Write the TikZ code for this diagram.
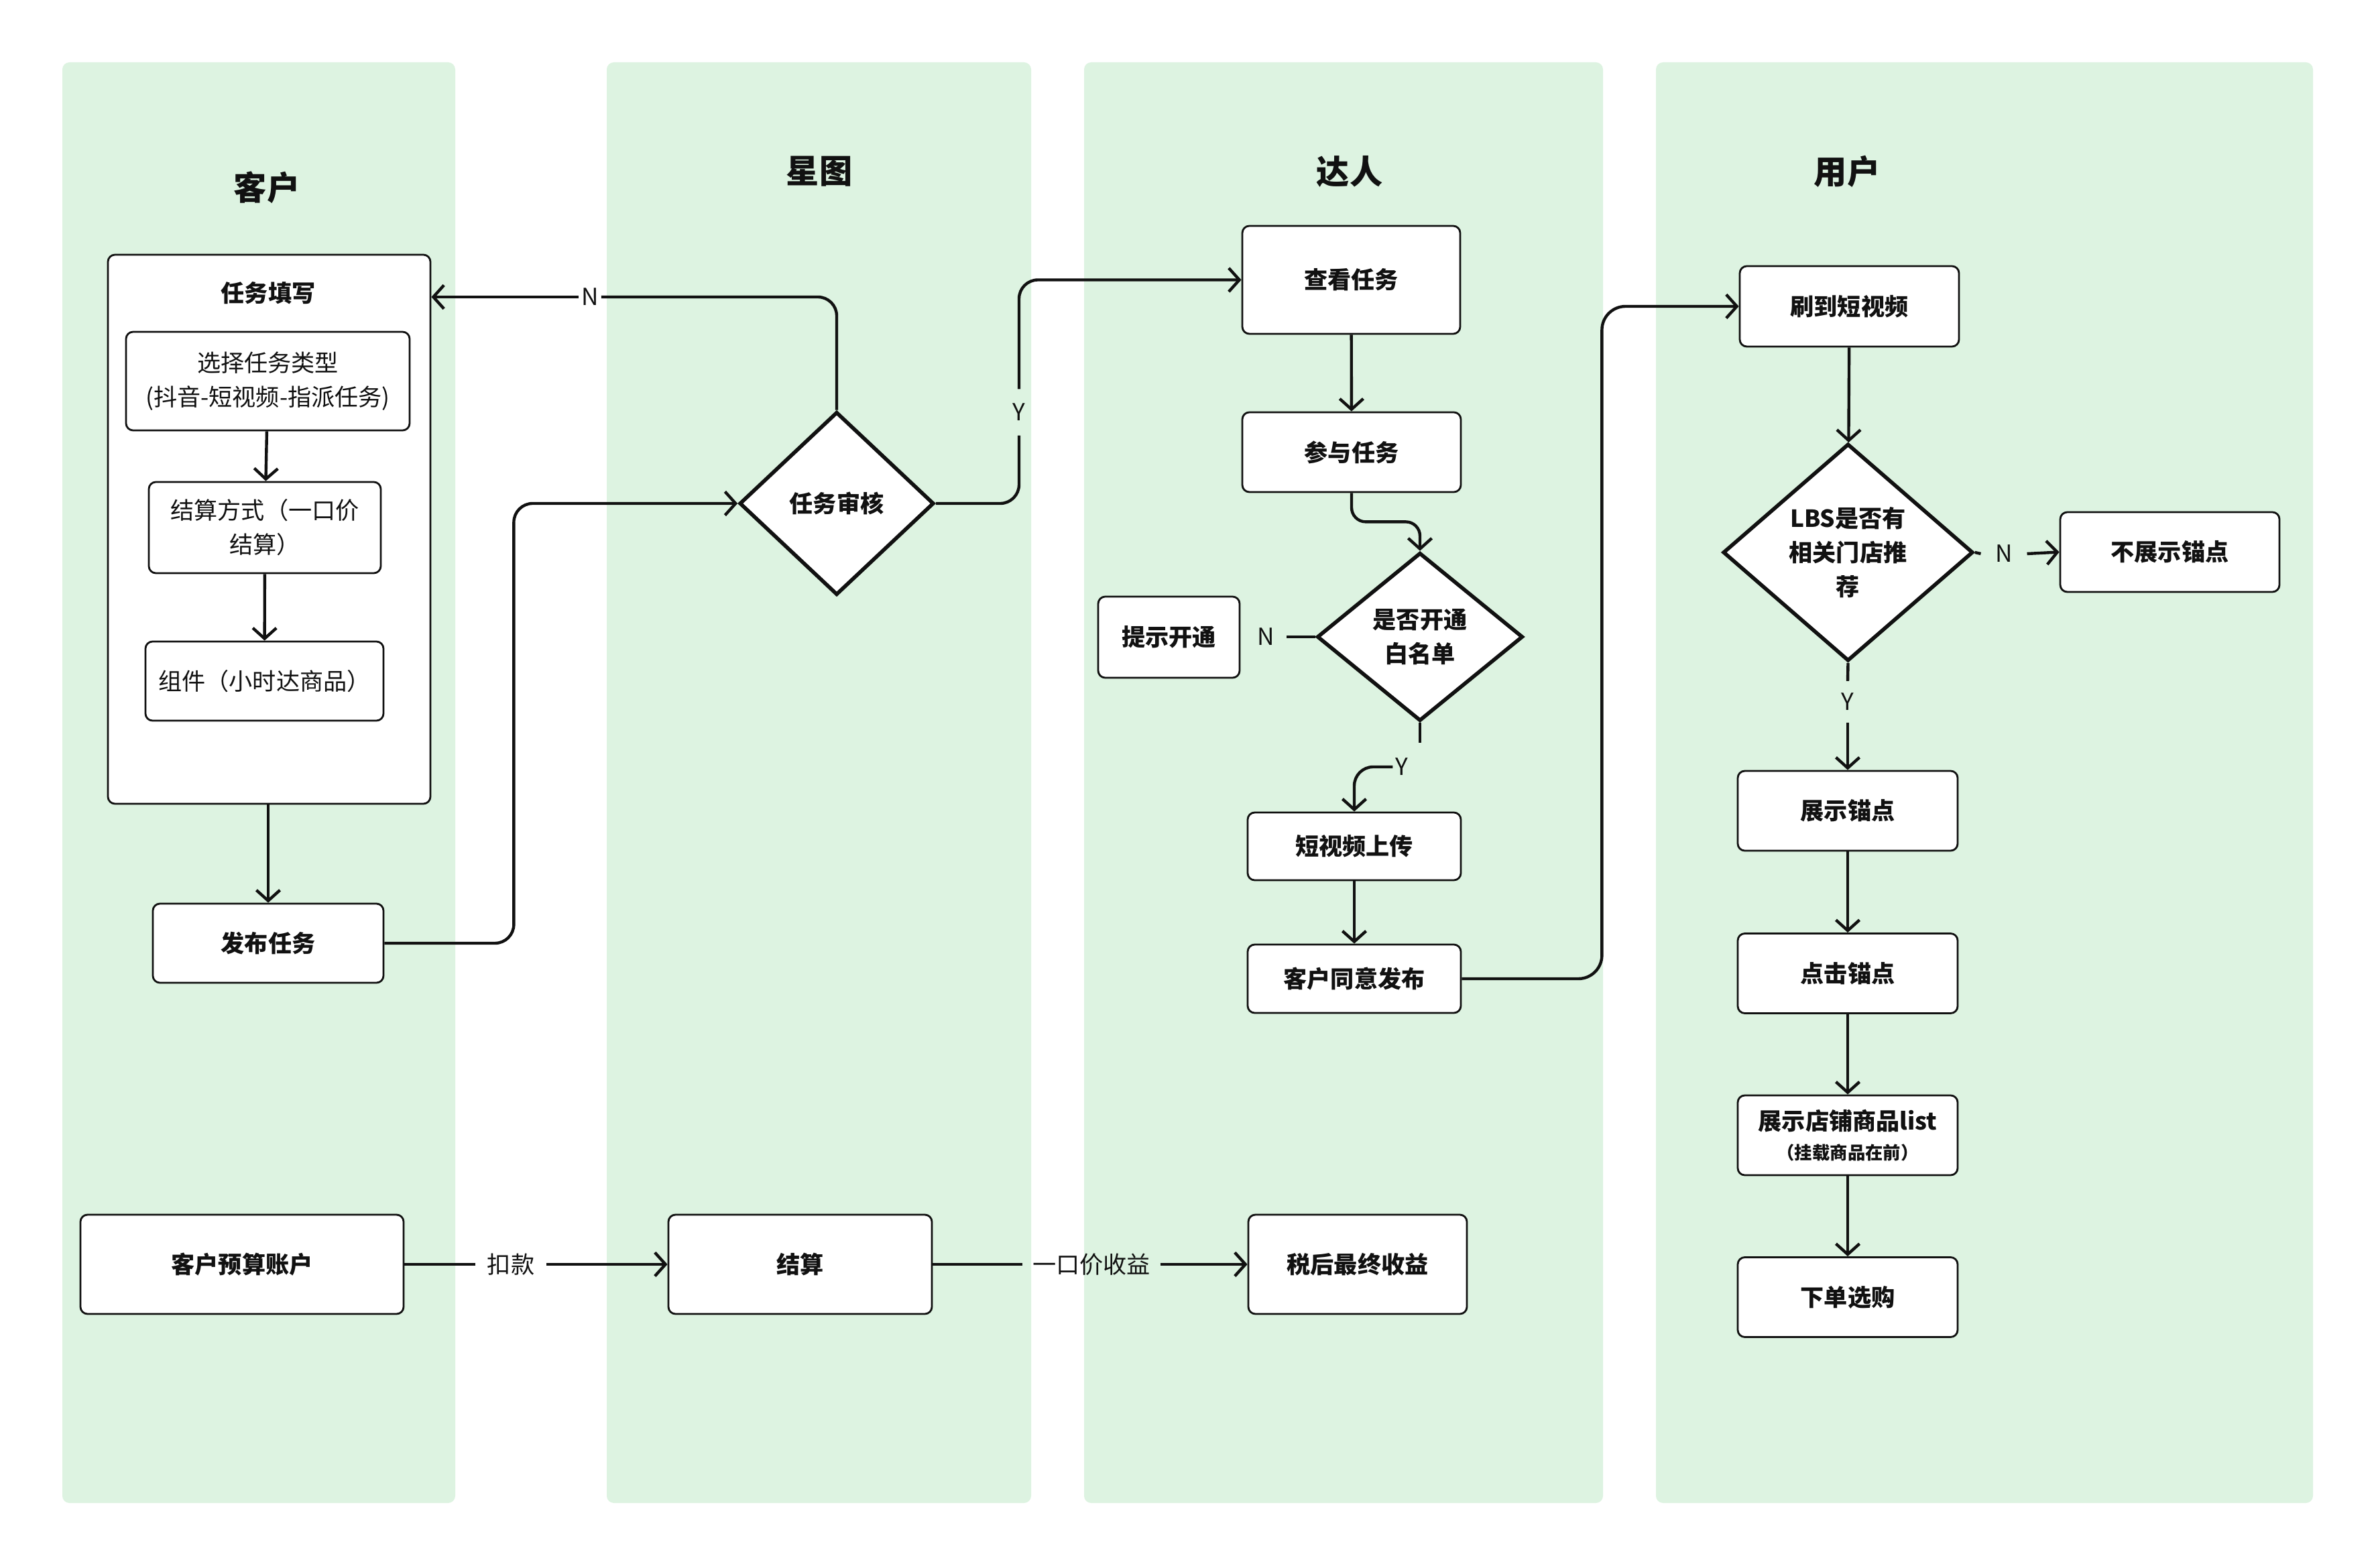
\documentclass[tikz,border=0pt]{standalone}
\usepackage{fontspec}
\setmainfont{Noto Sans CJK SC}
\usepackage{xcolor}
\usepackage{tikz}
\usetikzlibrary{arrows.meta, positioning, shapes.geometric}
\definecolor{lanegreen}{RGB}{221,243,225}
\definecolor{inkblack}{RGB}{17,17,17}

\begin{document}
\begin{tikzpicture}[
      lane/.style={fill=lanegreen, draw=none, rounded corners=3pt},
      title/.style={font=\fontsize{14}{17}\selectfont\bfseries, text=inkblack},
      box/.style={draw=inkblack, fill=white, line width=0.8pt, rounded corners=3pt,
                  align=center, inner sep=0pt, text=inkblack,
                  font=\fontsize{10}{14.5}\selectfont\bfseries},
      sub/.style={box, font=\fontsize{10}{14.5}\selectfont},
      dia/.style={diamond, draw=inkblack, fill=white, line width=1.6pt, inner sep=0pt,
                  align=center, text=inkblack, font=\fontsize{10}{14.5}\selectfont\bfseries},
      line/.style={draw=inkblack, line width=1.25pt},
      arr/.style={line, -{Straight Barb[length=4.5pt, width=10pt]}},
      lbl/.style={inner sep=1pt, text=inkblack, font=\fontsize{10}{12}\selectfont}
    ]
    \useasboundingbox (0,0) rectangle (35.47,-23.39);
    \fill[white] (0,0) rectangle (35.47,-23.39);

    \fill[lane] (0.93,-0.93) rectangle (6.79,-22.42);
    \fill[lane] (9.05,-0.93) rectangle (15.38,-22.42);
    \fill[lane] (16.17,-0.93) rectangle (23.91,-22.42);
    \fill[lane] (24.70,-0.93) rectangle (34.50,-22.42);

    \node[title] (tcust) at (3.98,-2.80) {客户};
    \node[title] (tstar) at (12.22,-2.56) {星图};
    \node[title] (ttal)  at (20.13,-2.56) {达人};
    \node[title] (tuser) at (27.55,-2.56) {用户};

    \node[box, minimum width=4.81cm, minimum height=8.19cm] (fill) at (4.015,-7.895) {};
    \node[box, draw=none, fill=none] (fillt) at (4.00,-4.37) {任务填写};
    \node[sub, minimum width=4.23cm, minimum height=1.47cm] (type) at (3.995,-5.685) {选择任务类型\\(抖音-短视频-指派任务)};
    \node[sub, minimum width=3.46cm, minimum height=1.36cm] (pay)  at (3.95,-7.87) {结算方式（一口价\\结算）};
    \node[sub, minimum width=3.55cm, minimum height=1.18cm] (comp) at (3.945,-10.16) {组件（小时达商品）};
    \node[box, minimum width=3.44cm, minimum height=1.18cm] (pub)  at (4.00,-14.07) {发布任务};
    \node[box, minimum width=4.82cm, minimum height=1.48cm] (budget) at (3.61,-18.86) {客户预算账户};

    \node[dia, minimum width=2.90cm, minimum height=2.73cm] (audit) at (12.48,-7.51) {任务审核};
    \node[box, minimum width=3.93cm, minimum height=1.48cm] (settle) at (11.935,-18.86) {结算};

    \node[box, minimum width=3.25cm, minimum height=1.61cm] (view)   at (20.155,-4.175) {查看任务};
    \node[box, minimum width=3.26cm, minimum height=1.19cm] (join)   at (20.16,-6.745) {参与任务};
    \node[dia, minimum width=3.07cm, minimum height=2.51cm] (white)  at (21.18,-9.50) {是否开通\\白名单};
    \node[box, minimum width=2.11cm, minimum height=1.21cm] (hint)   at (17.435,-9.505) {提示开通};
    \node[box, minimum width=3.18cm, minimum height=1.01cm] (upload) at (20.20,-12.625) {短视频上传};
    \node[box, minimum width=3.18cm, minimum height=1.02cm] (agree)  at (20.20,-14.60) {客户同意发布};
    \node[box, minimum width=3.26cm, minimum height=1.48cm] (income) at (20.25,-18.86) {税后最终收益};

    \node[box, minimum width=3.27cm, minimum height=1.20cm] (swipe)  at (27.585,-4.57) {刷到短视频};
    \node[dia, minimum width=3.73cm, minimum height=3.24cm] (lbs)    at (27.565,-8.24) {LBS是否有\\相关门店推\\荐};
    \node[box, minimum width=3.27cm, minimum height=1.19cm] (noshow) at (32.365,-8.235) {不展示锚点};
    \node[box, minimum width=3.28cm, minimum height=1.19cm] (show)   at (27.56,-12.095) {展示锚点};
    \node[box, minimum width=3.28cm, minimum height=1.19cm] (click)  at (27.56,-14.52) {点击锚点};
    \node[box, minimum width=3.28cm, minimum height=1.19cm] (list)   at (27.56,-16.935) {展示店铺商品list\\[-2pt]{\fontsize{7.5}{9}\selectfont （挂载商品在前）}};
    \node[box, minimum width=3.28cm, minimum height=1.19cm] (order)  at (27.56,-19.35) {下单选购};

    \node[lbl] (auditn) at (8.80,-4.43) {N};
    \node[lbl, inner ysep=6pt] (audity) at (15.20,-6.15) {Y};
    \node[lbl, inner xsep=5pt] (whiten) at (18.88,-9.50) {N};
    \node[lbl] (whitey) at (20.91,-11.44) {Y};
    \node[lbl, inner xsep=6pt] (lbsn) at (29.89,-8.26) {N};
    \node[lbl, inner ysep=5pt] (lbsy) at (27.56,-10.47) {Y};
    \node[lbl, inner xsep=5pt] (koukuan) at (7.62,-18.86) {扣款};
    \node[lbl, inner xsep=4pt] (yikoujia) at (16.28,-18.86) {一口价收益};
    \coordinate (wtick) at (21.18,-11.08);

    \draw[arr] (type) -- (pay);
    \draw[arr] (pay) -- (comp);
    \draw[arr] (fill.south -| pub.north) -- (pub.north);
    \draw[arr, rounded corners=8pt] (pub.east) -- ++(1.93,0) |- (audit.west);
    \draw[line, rounded corners=8pt] (audit.north) |- (auditn.east);
    \draw[arr] (auditn.west) -- (auditn.west -| fill.east);
    \draw[line, rounded corners=8pt] (audit.east) -| (audity.south);
    \draw[arr, rounded corners=8pt] (audity.north) |- (view.west);

    \draw[arr] (view) -- (join);
    \draw[arr, rounded corners=6pt] (join.south) -- ++(0,-0.43) -| (white.north);
    \draw[line] (white.west) -- (whiten.east);
    \draw[line] (white.south) -- (wtick);
    \draw[arr, rounded corners=8pt] (whitey.west) -| (upload.north);
    \draw[arr] (upload) -- (agree);
    \draw[arr, rounded corners=10pt] (agree.east) -- ++(2.09,0) |- (swipe.west);

    \draw[arr] (swipe) -- (lbs);
    \draw[line] (lbs.east) -- (lbsn.west);
    \draw[arr] (lbsn.east) -- (noshow.west);
    \draw[line] (lbs.south) -- (lbsy.north);
    \draw[arr] (lbsy.south) -- (show.north);
    \draw[arr] (show) -- (click);
    \draw[arr] (click) -- (list);
    \draw[arr] (list) -- (order);

    \draw[line] (budget.east) -- (koukuan.west);
    \draw[arr] (koukuan.east) -- (settle.west);
    \draw[line] (settle.east) -- (yikoujia.west);
    \draw[arr] (yikoujia.east) -- (income.west);
  \end{tikzpicture}
\end{document}
